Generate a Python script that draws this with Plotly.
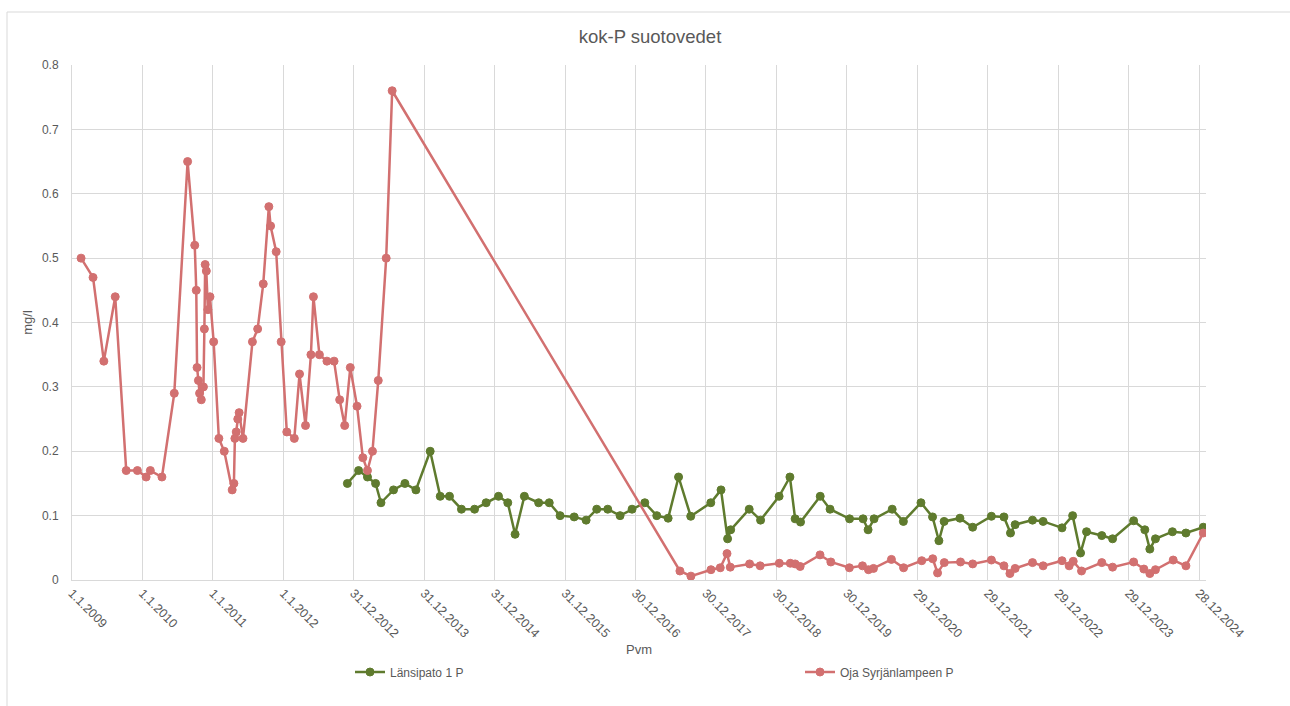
import plotly.graph_objects as go
import pandas as pd

# ---------------- data ----------------
lansipato_dates = [
    "2012-11-28", "2013-01-25", "2013-03-12", "2013-04-23", "2013-05-21", "2013-07-25",
    "2013-09-22", "2013-11-18", "2014-01-31", "2014-03-24", "2014-05-11", "2014-07-12",
    "2014-09-18", "2014-11-17", "2015-01-20", "2015-03-09", "2015-04-16", "2015-06-03",
    "2015-08-16", "2015-10-10", "2015-12-05", "2016-02-16", "2016-04-18", "2016-06-12",
    "2016-08-08", "2016-10-11", "2016-12-12", "2017-02-16", "2017-04-19", "2017-06-17",
    "2017-08-10", "2017-10-12", "2018-01-24", "2018-03-18", "2018-04-21", "2018-05-07",
    "2018-08-11", "2018-10-09", "2019-01-13", "2019-03-10", "2019-04-06", "2019-05-04",
    "2019-08-14", "2019-10-04", "2020-01-13", "2020-03-23", "2020-04-18", "2020-05-19",
    "2020-08-21", "2020-10-18", "2021-01-17", "2021-03-18", "2021-04-20", "2021-05-17",
    "2021-08-07", "2021-10-12", "2022-01-17", "2022-03-23", "2022-04-26", "2022-05-20",
    "2022-08-18", "2022-10-12", "2023-01-18", "2023-03-14", "2023-04-24", "2023-05-25",
    "2023-08-12", "2023-10-07", "2024-01-24", "2024-03-22", "2024-04-17", "2024-05-16",
    "2024-08-12", "2024-10-21", "2025-01-19",
]
lansipato_values = [
    0.15, 0.17, 0.16, 0.15, 0.12, 0.14,
    0.15, 0.14, 0.20, 0.13, 0.13, 0.11,
    0.11, 0.12, 0.13, 0.12, 0.071, 0.13,
    0.12, 0.12, 0.10, 0.098, 0.093, 0.11,
    0.11, 0.10, 0.11, 0.12, 0.10, 0.096,
    0.16, 0.099, 0.12, 0.14, 0.064, 0.078,
    0.11, 0.093, 0.13, 0.16, 0.095, 0.090,
    0.13, 0.11, 0.095, 0.095, 0.078, 0.095,
    0.11, 0.091, 0.12, 0.098, 0.061, 0.091,
    0.096, 0.082, 0.099, 0.098, 0.073, 0.086,
    0.093, 0.091, 0.081, 0.100, 0.042, 0.075,
    0.069, 0.064, 0.092, 0.078, 0.048, 0.064,
    0.075, 0.073, 0.082,
]

oja_dates = [
    "2009-02-17", "2009-04-20", "2009-06-15", "2009-08-13", "2009-10-09", "2009-12-06",
    "2010-01-20", "2010-02-11", "2010-04-12", "2010-06-15", "2010-08-23", "2010-09-29",
    "2010-10-07", "2010-10-11", "2010-10-18", "2010-10-24", "2010-11-02", "2010-11-13",
    "2010-11-18", "2010-11-22", "2010-11-28", "2010-12-06", "2010-12-17", "2011-01-05",
    "2011-02-01", "2011-03-01", "2011-04-11", "2011-04-20", "2011-04-25", "2011-05-02",
    "2011-05-10", "2011-05-17", "2011-06-06", "2011-07-25", "2011-08-21", "2011-09-19",
    "2011-10-18", "2011-10-27", "2011-11-25", "2011-12-21", "2012-01-19", "2012-02-27",
    "2012-03-25", "2012-04-25", "2012-05-23", "2012-06-05", "2012-07-06", "2012-08-14",
    "2012-09-20", "2012-10-19", "2012-11-14", "2012-12-13", "2013-01-17", "2013-02-16",
    "2013-03-12", "2013-04-07", "2013-05-07", "2013-06-17", "2013-07-18",
    "2017-08-17", "2017-10-13", "2018-01-25", "2018-03-14", "2018-04-18", "2018-05-05",
    "2018-08-13", "2018-10-07", "2019-01-14", "2019-03-12", "2019-04-06", "2019-05-02",
    "2019-08-13", "2019-10-08", "2020-01-12", "2020-03-20", "2020-04-20", "2020-05-16",
    "2020-08-17", "2020-10-19", "2021-01-21", "2021-03-19", "2021-04-13", "2021-05-18",
    "2021-08-10", "2021-10-12", "2022-01-17", "2022-03-23", "2022-04-23", "2022-05-20",
    "2022-08-18", "2022-10-12", "2023-01-18", "2023-02-24", "2023-03-17", "2023-04-29",
    "2023-08-12", "2023-10-07", "2024-01-24", "2024-03-17", "2024-04-17", "2024-05-16",
    "2024-08-16", "2024-10-21", "2025-01-19",
]
oja_values = [
    0.50, 0.47, 0.34, 0.44, 0.17, 0.17,
    0.16, 0.17, 0.16, 0.29, 0.65, 0.52,
    0.45, 0.33, 0.31, 0.29, 0.28, 0.30,
    0.39, 0.49, 0.48, 0.42, 0.44, 0.37,
    0.22, 0.20, 0.14, 0.15, 0.22, 0.23,
    0.25, 0.26, 0.22, 0.37, 0.39, 0.46,
    0.58, 0.55, 0.51, 0.37, 0.23, 0.22,
    0.32, 0.24, 0.35, 0.44, 0.35, 0.34,
    0.34, 0.28, 0.24, 0.33, 0.27, 0.19,
    0.17, 0.20, 0.31, 0.50, 0.76,
    0.014, 0.006, 0.016, 0.019, 0.041, 0.020,
    0.025, 0.022, 0.026, 0.026, 0.025, 0.021,
    0.039, 0.028, 0.019, 0.022, 0.016, 0.018,
    0.032, 0.019, 0.030, 0.033, 0.011, 0.027,
    0.028, 0.025, 0.031, 0.022, 0.010, 0.018,
    0.027, 0.022, 0.030, 0.022, 0.029, 0.014,
    0.027, 0.020, 0.028, 0.017, 0.010, 0.016,
    0.031, 0.022, 0.073,
]

x_tick_labels = [
    "1.1.2009", "1.1.2010", "1.1.2011", "1.1.2012", "31.12.2012", "31.12.2013",
    "31.12.2014", "31.12.2015", "30.12.2016", "30.12.2017", "30.12.2018", "30.12.2019",
    "29.12.2020", "29.12.2021", "29.12.2022", "29.12.2023", "28.12.2024",
]
x_tick_dates = pd.date_range("2009-01-01", periods=len(x_tick_labels), freq="365D")

series_names = ["Länsipato 1 P", "Oja Syrjänlampeen P"]
series_colors = ["#5f7b2e", "#d27070"]

# ---------------- figure ----------------
FONT = "Liberation Sans, Arial, sans-serif"
TXT = "#595959"
GRID = "#d9d9d9"

fig = go.Figure()
for name, xs, ys, col in [
    (series_names[0], lansipato_dates, lansipato_values, series_colors[0]),
    (series_names[1], oja_dates, oja_values, series_colors[1]),
]:
    fig.add_trace(go.Scatter(
        x=pd.to_datetime(xs), y=ys, name=name, mode="lines+markers",
        line=dict(color=col, width=2.5),
        marker=dict(color=col, size=8, line=dict(color=col, width=1)),
    ))

W, H = 1290, 706
L, R, T, B = 72, 84, 65, 126
fig.update_layout(
    width=W, height=H,
    margin=dict(l=L, r=R, t=T, b=B, pad=0, autoexpand=False),
    paper_bgcolor="white", plot_bgcolor="white",
    font=dict(family=FONT, color=TXT, size=12),
    title=dict(text="kok-P suotovedet", font=dict(size=18.5, color=TXT, family=FONT),
               x=650 / W, xref="container", xanchor="center",
               y=1 - 37 / H, yref="container", yanchor="middle"),
    showlegend=True,
    legend=dict(orientation="h", xref="container", yref="container",
                x=350 / W, xanchor="left", y=1 - 672 / H, yanchor="middle",
                entrywidth=405, entrywidthmode="pixels",
                font=dict(size=12, color=TXT, family=FONT),
                bgcolor="rgba(0,0,0,0)", traceorder="normal"),
    xaxis=dict(
        type="date", automargin=False,
        range=["2009-01-01", "2025-02-02"],
        tickmode="array", tickvals=x_tick_dates, ticktext=x_tick_labels,
        tickangle=45, tickfont=dict(size=12.5, color=TXT),
        showgrid=True, gridcolor=GRID, gridwidth=1,
        showline=True, linecolor=GRID, linewidth=1,
        ticks="", zeroline=False,
        title=dict(text="Pvm", font=dict(size=13, color=TXT), standoff=10),
    ),
    yaxis=dict(
        range=[0, 0.8], dtick=0.1, tick0=0, automargin=False,
        tickfont=dict(size=12, color=TXT),
        showgrid=True, gridcolor=GRID, gridwidth=1,
        showline=True, linecolor=GRID, linewidth=1,
        ticks="", zeroline=False, ticklabelstandoff=10,
        title=dict(text="mg/l", font=dict(size=13, color=TXT), standoff=6),
    ),
)

# outer chart-area border (top and left edges visible in the frame)
pw = W - L - R
ph = H - T - B
def px_x(p):
    return (p - L) / pw
def px_y(p):
    return (H - B - p) / ph
fig.add_shape(type="line", xref="paper", yref="paper",
              x0=px_x(7), x1=px_x(W + 5), y0=px_y(12), y1=px_y(12),
              line=dict(color=GRID, width=1))
fig.add_shape(type="line", xref="paper", yref="paper",
              x0=px_x(7), x1=px_x(7), y0=px_y(12), y1=px_y(H + 5),
              line=dict(color=GRID, width=1))

fig.write_html("out.html")
